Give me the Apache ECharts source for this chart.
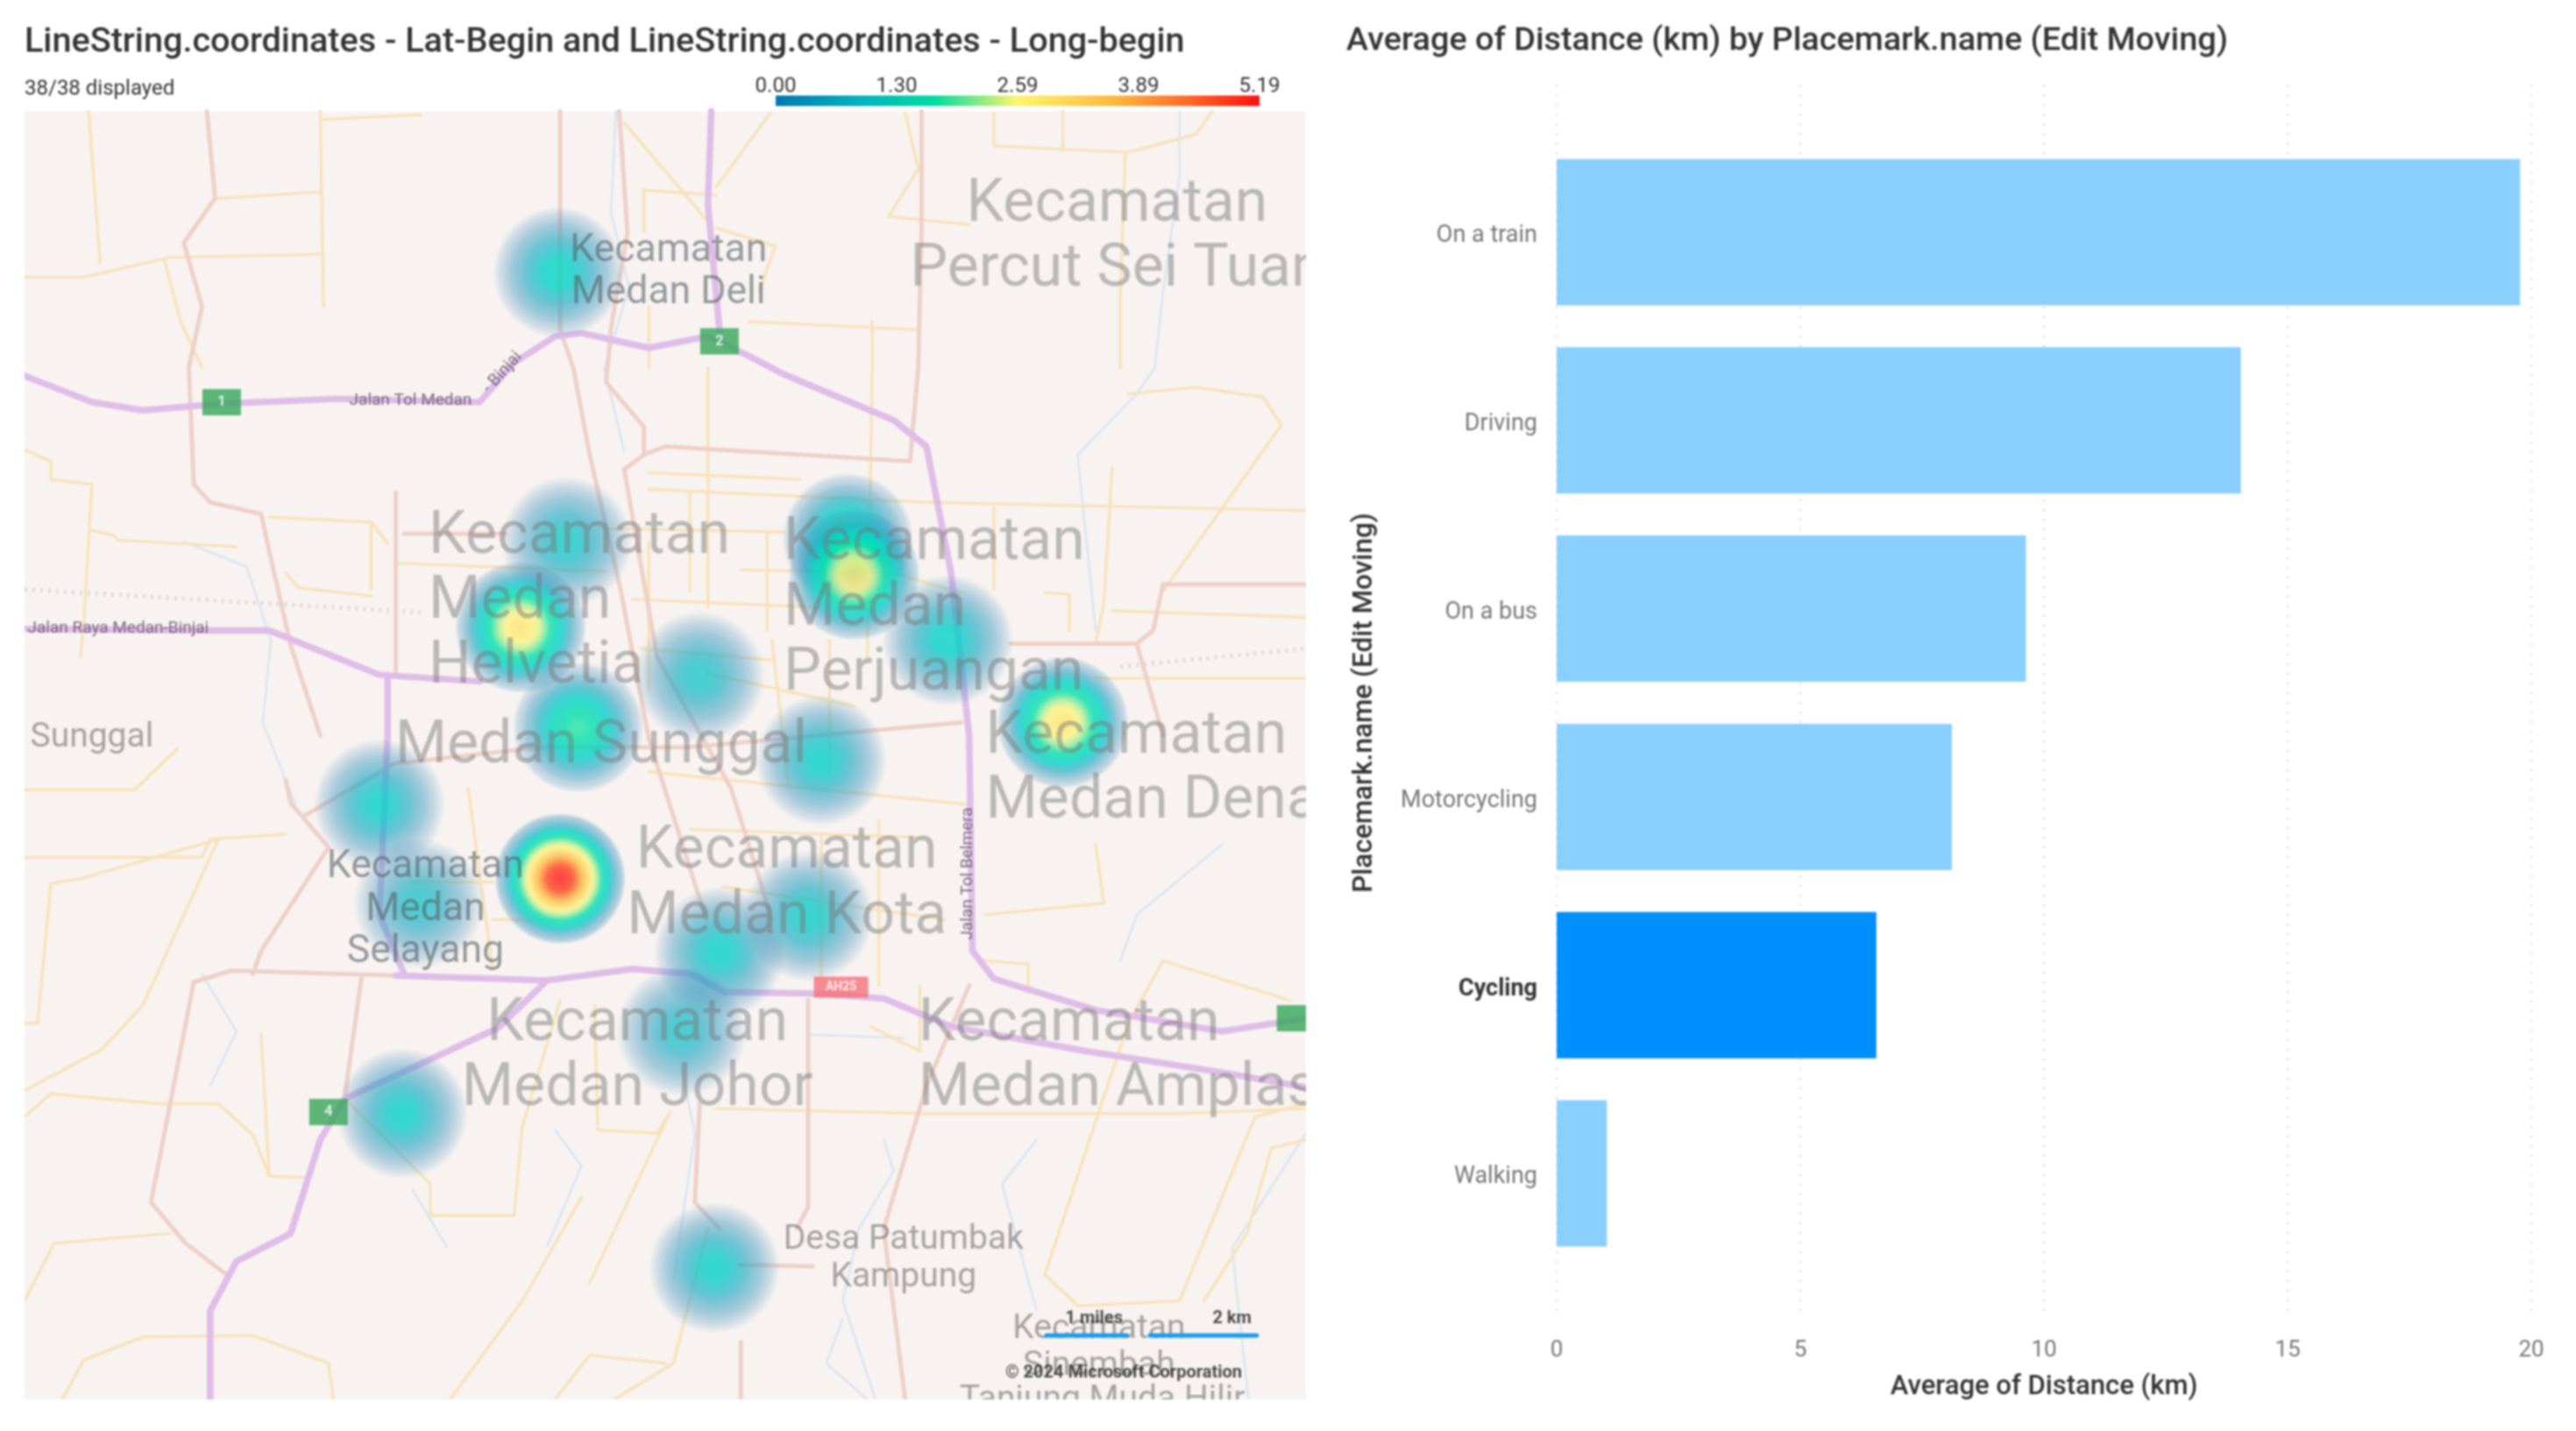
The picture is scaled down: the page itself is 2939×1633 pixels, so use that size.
<!DOCTYPE html>
<html><head><meta charset="utf-8">
<style>html,body{margin:0;padding:0;background:#fff}#c{width:2939px;height:1633px;filter:blur(1.3px)}</style>
<script src="https://cdn.jsdelivr.net/npm/echarts@6/dist/echarts.min.js"></script>
</head><body><div id="c"></div>
<script>
// ---- bar chart data ----
const categories = ['On a train','Driving','On a bus','Motorcycling','Cycling','Walking'];
const avgDistance = [19.77,14.04,9.63,8.11,6.56,1.03];
const highlighted = 'Cycling';
const distanceTicks = [0,5,10,15,20];
// ---- heat map data: map easting / southing (map units), and intensity ----
const heatEast  = [340,345,317,516,520,577,647,426,352,500,231,255,341,438,492,415,245,435];
const heatSouth = [166,330,382,328,350,390,440,412,443,463,490,550,535,580,558,628,678,772];
const heatValue = [1.05,0.85,2.95,1.6,2.95,1.0,2.95,0.8,1.7,0.95,0.95,0.75,5.19,0.95,0.9,0.75,0.95,0.95];
const legendTicks = ['0.00','1.30','2.59','3.89','5.19'];
const legendMax = 5.19;
// ---- base map geometry (map units) ----
const highways = [
 [[15,229],[56,245],[87,250],[135,246],[205,243],[292,245],[313,221],[338,205],[354,203],[395,212],[431,205],[456,217],[477,228],[544,256],[564,272],[579,349],[590,448],[592,579],[605,596],[667,615],[744,628],[795,620]],
 [[433,68],[431,125],[438,201]],
 [[15,383],[128,384],[164,384],[231,411],[292,415]],
 [[236,411],[236,448],[231,557],[246,593]],
 [[241,594],[333,597],[385,590],[421,593],[441,604],[497,605],[538,608],[579,625],[661,640],[744,653],[795,662]],
 [[333,597],[303,626],[262,645],[210,669],[195,694],[177,751],[144,768],[128,798],[128,852]]
];
const arterials = [
 [[126,68],[131,121],[112,148],[123,187],[115,224],[118,295],[128,306],[159,313],[164,336],[177,393],[195,448]],
 [[341,68],[341,201],[349,224],[359,277],[378,360],[395,450],[430,560]],
 [[377,68],[382,142],[372,200],[369,233],[392,260],[392,277],[380,286],[400,400],[445,480],[470,560]],
 [[392,277],[405,272],[554,281],[559,224],[561,139]],
 [[561,139],[561,68]],
 [[241,300],[241,411]],[[246,325],[308,325]],
 [[708,356],[795,356]],[[708,356],[702,384],[692,392],[615,392]],[[692,392],[708,448]],
 [[118,598],[141,591],[241,594]],[[118,598],[92,732],[113,757],[138,776]],
 [[174,475],[177,489],[200,516],[159,579],[154,593]],
 [[220,596],[210,667]],
 [[492,609],[492,735],[485,748]],[[564,661],[538,748],[551,852]],[[451,817],[451,852]],
 [[426,672],[423,732],[438,748]],[[450,770],[495,771]],
 [[185,497],[240,465],[330,455],[420,455],[585,440]],
 [[590,600],[564,661]]
];
const minorRoads = [
 [[54,68],[61,160]],[[195,68],[197,187]],[[197,73],[256,70]],[[133,121],[195,117]],
 [[15,169],[51,169],[103,157],[195,155]],[[100,158],[110,196],[123,224]],
 [[380,75],[431,135]],[[469,69],[436,114]],[[392,116],[436,119]],[[392,116],[392,141]],[[436,139],[472,150],[462,178]],[[395,187],[395,224]],
 [[456,196],[559,201]],[[531,196],[531,224],[528,400]],[[431,224],[431,370]],
 [[551,69],[559,103],[541,132],[590,137]],[[685,94],[682,180],[682,224]],[[605,69],[605,89],[687,93],[728,82],[738,68]],[[647,68],[647,92]],
 [[395,288],[487,292]],[[395,298],[564,306],[795,311]],[[677,285],[672,367],[667,392]],
 [[687,240],[728,236],[769,242],[780,259],[708,360]],
 [[15,274],[31,281],[31,292],[56,295],[51,381],[49,400]],[[56,323],[69,326],[72,329],[144,333]],[[164,315],[226,318],[236,331]],[[226,318],[226,359]],
 [[174,349],[182,358],[226,363]],[[241,343],[369,348]],[[369,322],[477,324]],[[451,347],[544,349],[585,361]],[[467,324],[467,384]],
 [[636,361],[651,362],[651,384]],[[677,372],[795,376]],[[667,413],[795,413]],[[605,309],[605,359]],
 [[395,330],[395,420]],[[420,300],[420,360]],[[385,365],[500,370]],[[390,395],[470,402]],[[430,410],[520,430]],[[470,390],[480,480]],[[505,390],[505,470]],
 [[15,481],[82,481],[108,456]],[[15,522],[123,522],[128,511],[174,508]],[[15,623],[23,623],[31,538],[49,535],[133,511]],[[15,664],[62,639],[87,612],[133,511]],
 [[15,680],[31,666],[97,672],[133,672],[154,691],[164,716],[185,717]],[[159,630],[164,716]],[[15,792],[33,757],[103,751]],
 [[38,852],[51,828],[87,814],[154,813],[200,830],[203,852]],
 [[262,721],[262,740],[313,740],[318,686],[341,609]],[[274,852],[318,792],[354,729]],[[338,852],[359,825],[405,830]],
 [[362,612],[364,688],[400,690],[408,677],[359,781]],[[374,852],[410,830],[431,748]],[[436,675],[564,678],[718,678],[795,675]],
 [[708,585],[785,609]],[[708,585],[687,623],[636,776],[656,795],[718,792],[764,680],[795,672]],[[600,585],[626,587],[626,604]],
 [[667,514],[672,550],[600,557]],[[795,694],[774,699],[759,751],[733,792]],
 [[420,505],[560,510]],[[395,470],[590,490]],[[440,540],[575,560]],[[500,510],[500,600]],[[535,500],[535,600]],[[530,625],[560,640],[560,600]],
 [[250,537],[300,537]],[[300,560],[340,560]],[[285,480],[300,590]],[[262,721],[210,669]]
];
const waterways = [
 [[375,68],[372,130],[383,175],[368,225],[380,275]],[[718,68],[718,107],[708,178],[703,224],[692,240],[656,277],[667,384]],
 [[112,330],[150,345],[165,390],[160,440],[180,490]],
 [[744,514],[692,557],[682,585]],[[538,694],[544,713],[523,748],[513,792],[533,852]],[[631,694],[610,721],[631,798]],
 [[338,688],[354,710],[333,759]],[[123,593],[144,628],[128,661]],[[251,724],[272,759]],[[513,803],[503,830],[528,852]],
 [[492,630],[550,632]],[[415,650],[423,690],[410,780]],[[795,690],[750,760],[760,852]]
];
const railways = [[[15,359],[256,373]],[[682,406],[795,395]]];
// ---- map annotations ----
const bigLabels = [
 ['Kecamatan\nPercut Sei Tuan',680,142],['Kecamatan\nMedan Kota',479,536],['Kecamatan\nMedan Johor',388,641],['Medan Sunggal',366,452]
];
const bigLeftLabels = [
 ['Kecamatan\nMedan\nHelvetia',261,364],['Kecamatan\nMedan\nPerjuangan',477,368],['Kecamatan\nMedan Denai',600,466],['Kecamatan\nMedan Amplas',559,641]
];
const midLabels = [['Kecamatan\nMedan Deli',407,164],['Kecamatan\nMedan\nSelayang',259,552]];
const smallLabels = [['Desa Patumbak\nKampung',550,765],['Sunggal',56,448],['Kecamatan\nSinembah',669,819],['Tanjung Muda Hilir',671,851]];
const roadNames = [['Jalan Tol Medan',250,244],['Jalan Raya Medan-Binjai',72,383]];
const roadNamesTilted = [['- Binjai',306,227,48],['Jalan Tol Belmera',589,532,90]];
const greenShields = [['1',135,245],['2',438,208],['4',200,677],['',789,620]];
const redShields = [['AH25',512,601]];
const scaleBars = [[[637,813],[686,813]],[[700,813],[765,813]]];
const scaleTexts = [['1 miles',666,803],['2 km',750,803],['© 2024 Microsoft Corporation',684,836]];

// ---- map units to lon/lat (linear local frame) ----
const E0=15,S0=68,E1=795,S1=852,K=0.000277,LON0=98.562,LAT0=3.69;
const ll=(e,s)=>[LON0+(e-E0)*K, LAT0-(s-S0)*K];
const roadCoords=list=>list.map(r=>({coords:r.map(p=>ll(p[0],p[1]))}));
echarts.registerMap('base',{type:'FeatureCollection',features:[{type:'Feature',properties:{name:'m'},geometry:{type:'Polygon',coordinates:[[ll(E0,S0),ll(E1,S0),ll(E1,S1),ll(E0,S1),ll(E0,S0)]]}}]});

// heat colour ramp: intensity share -> rgba
const heatStops=[[0,[60,140,185,0]],[.012,[65,145,190,.3]],[.04,[55,150,190,.55]],[.1,[25,170,195,.8]],[.18,[0,210,200,1]],[.3,[0,224,170,1]],[.42,[185,240,150,1]],[.5,[255,245,130,1]],[.7,[255,190,70,1]],[.85,[255,110,40,1]],[1,[255,20,20,1]]];
const falloff=[[0,1],[.2,.92],[.45,.55],[.7,.22],[.85,.07],[1,0]];
const lerpTable=(tab,t)=>{let j=0;while(j<tab.length-2&&t>tab[j+1][0])j++;const a=tab[j],b=tab[j+1];return [a,b,(t-a[0])/(b[0]-a[0])];};
const rampColor=t=>{const [a,b,f]=lerpTable(heatStops,t);const c=a[1].map((v,k)=>v+(b[1][k]-v)*f);return `rgba(${c[0]|0},${c[1]|0},${c[2]|0},${c[3].toFixed(3)})`;};
const heatFill=v=>{const stops=[];for(let i=0;i<=24;i++){const r=i/24;const [a,b,f]=lerpTable(falloff,r);stops.push({offset:r,color:rampColor(v/legendMax*(a[1]+(b[1]-a[1])*f))});}
 return new echarts.graphic.RadialGradient(.5,.5,.5,stops);};
const legendStops=[[0,'#0078b4'],[.18,'#00b4bc'],[.33,'#00dca0'],[.5,'#fff570'],[.7,'#ffb840'],[.85,'#ff6a28'],[1,'#ff1010']];

const textItems=(list,color,size,pos,weight,dy)=>({type:'scatter',coordinateSystem:'geo',geoIndex:0,z:6,silent:true,symbolSize:0,
 data:list.map(l=>({name:l[0],value:ll(l[1],l[2])})),
 label:{show:true,formatter:'{b}',position:pos,distance:0,offset:[0,dy||0],color,fontSize:size,fontFamily:'Roboto',fontWeight:weight||400,lineHeight:size*1.09,align:pos==='right'?'left':'center',verticalAlign:'middle'}});
const shields=(list,color,w,h,size)=>({type:'scatter',coordinateSystem:'geo',geoIndex:0,z:7,silent:true,symbol:'rect',symbolSize:[w,h],itemStyle:{color},
 data:list.map(l=>({name:l[0],value:ll(l[1],l[2])})),label:{show:true,formatter:'{b}',position:'inside',color:'#fff',fontSize:size,fontWeight:700,fontFamily:'Roboto'}});
const road=(list,color,width,z,extra)=>({type:'lines',coordinateSystem:'geo',geoIndex:0,polyline:true,silent:true,z,lineStyle:Object.assign({color,width,opacity:1,join:'round',cap:'round'},extra||{}),data:roadCoords(list)});

const GREY='#333';
const option={
 animation:false,backgroundColor:'#fff',
 title:[
  {text:'LineString.coordinates - Lat-Begin and LineString.coordinates - Long-begin',left:23,top:24,textStyle:{fontFamily:'Roboto',fontSize:39.6,fontWeight:500,color:GREY}},
  {text:'Average of Distance (km) by Placemark.name (Edit Moving)',left:1531,top:24,textStyle:{fontFamily:'Roboto',fontSize:37.8,fontWeight:500,color:GREY}},
  {text:'38/38 displayed',left:23,top:85,textStyle:{fontFamily:'Roboto',fontSize:24,fontWeight:400,color:'#333'}}
 ],
 grid:[
  {left:1776,right:51,top:157.5,height:1289},
  {left:1776,right:51,top:97,height:1403},
  {left:885,width:552,top:109,height:12}
 ],
 xAxis:[
  {gridIndex:0,type:'value',min:0,max:20,show:false},
  {gridIndex:1,type:'value',min:0,max:20,interval:5,axisLine:{show:false},axisTick:{show:false},
   splitLine:{show:true,lineStyle:{type:[2,9],color:'#d4d4d4',width:2}},
   axisLabel:{color:'#777',fontSize:26,fontFamily:'Roboto',margin:28,formatter:v=>String(distanceTicks[v/5])},
   name:'Average of Distance (km)',nameLocation:'middle',nameGap:68,nameTextStyle:{color:'#333',fontSize:31,fontWeight:500,fontFamily:'Roboto'}},
  {gridIndex:2,type:'value',position:'top',min:0,max:legendMax,interval:legendMax/4,axisLine:{show:false},axisTick:{show:false},splitLine:{show:false},
   axisLabel:{color:'#333',fontSize:24,fontFamily:'Roboto',margin:-2,showMinLabel:true,showMaxLabel:true,formatter:(v)=>legendTicks[Math.round(v/(legendMax/4))]}}
 ],
 yAxis:[
  {gridIndex:0,type:'category',inverse:true,data:categories,axisLine:{show:false},axisTick:{show:false},
   axisLabel:{margin:22,fontFamily:'Roboto',fontSize:27,color:'#777',padding:[9,0,0,0],
    formatter:v=>v===highlighted?`{b|${v}}`:v,rich:{b:{fontWeight:700,color:'#333',fontSize:27,fontFamily:'Roboto'}}},
   name:'Placemark.name (Edit Moving)',nameLocation:'middle',nameRotate:90,nameGap:203,nameTextStyle:{color:'#333',fontSize:31.5,fontWeight:500,fontFamily:'Roboto'}},
  {gridIndex:1,type:'category',data:[''],show:false},
  {gridIndex:2,type:'category',data:[''],show:false}
 ],
 geo:{map:'base',roam:false,silent:true,aspectScale:1,left:28,top:127,width:1462,height:1470,
  itemStyle:{areaColor:'#f8f3f1',borderWidth:0},label:{show:false},emphasis:{disabled:true}},
 series:[
  road(waterways,'#d8e5ef',2.5,1),
  road(railways,'#dcdcdc',5,1,{type:[3,6],cap:'butt'}),
  road(minorRoads,'#f7e2bb',3.5,1),
  road(arterials,'#eed0c8',5,2),
  road(highways,'#dfbde8',7.5,3),
  {type:'scatter',coordinateSystem:'geo',geoIndex:0,z:4,silent:true,symbol:'circle',symbolSize:150,
   data:heatEast.map((e,i)=>({value:[...ll(e,heatSouth[i]),heatValue[i]],itemStyle:{color:heatFill(heatValue[i])}}))},
  road(scaleBars,'#1a9bf0',5,7),
  textItems(bigLabels,'rgba(120,120,120,.6)',68,'inside',400,6),
  textItems(bigLeftLabels,'rgba(120,120,120,.6)',68,'right',400,6),
  textItems(midLabels,'rgba(85,95,100,.75)',44.5,'inside',400,4),
  textItems(smallLabels,'rgba(95,95,95,.68)',39,'inside',400,3),
  textItems(roadNames,'#5a4a60',19,'inside'),
  {type:'scatter',coordinateSystem:'geo',geoIndex:0,z:6,silent:true,symbolSize:0,
   data:roadNamesTilted.map(r=>({name:r[0],value:ll(r[1],r[2]),label:{rotate:r[3]}})),
   label:{show:true,formatter:'{b}',position:'inside',color:'#5a4a60',fontSize:19,fontFamily:'Roboto'}},
  shields(greenShields,'#36a65a',44,30,16),
  shields(redShields,'#f5707a',62,24,14),
  textItems(scaleTexts,'#222',20,'inside',700),
  {type:'bar',xAxisIndex:0,yAxisIndex:0,barWidth:167,silent:true,
   data:avgDistance.map((v,i)=>({value:v,itemStyle:{color:categories[i]===highlighted?'#008fff':'#89cfff'}}))},
  {type:'bar',xAxisIndex:2,yAxisIndex:2,barWidth:12,silent:true,
   data:[{value:legendMax,itemStyle:{color:new echarts.graphic.LinearGradient(0,0,1,0,legendStops.map(s=>({offset:s[0],color:s[1]})))}}]}
 ],
 graphic:[
  {type:'rect',z:100,silent:true,shape:{x:1490,y:120,width:42,height:1490},style:{fill:'#fff'}},
  {type:'rect',z:100,silent:true,shape:{x:0,y:1597,width:1532,height:30},style:{fill:'#fff'}},
  {type:'rect',z:100,silent:true,shape:{x:0,y:120,width:28,height:1490},style:{fill:'#fff'}}
 ]
};
const chart=echarts.init(document.getElementById('c'),null,{renderer:'canvas'});
chart.setOption(option);
</script></body></html>
